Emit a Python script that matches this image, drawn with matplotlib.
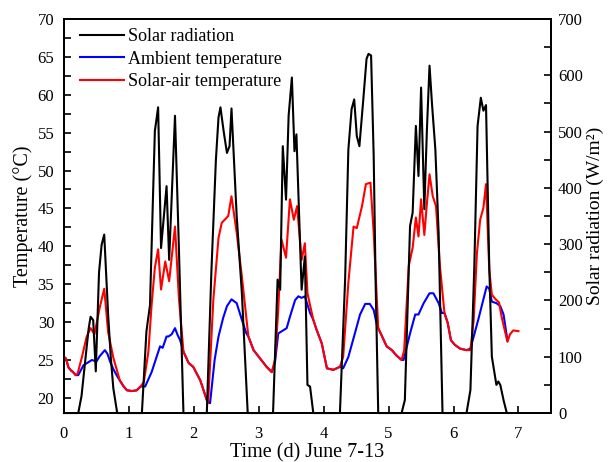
import matplotlib
matplotlib.use("Agg")
import matplotlib.pyplot as plt
from matplotlib.ticker import MultipleLocator

plt.rcParams['font.family'] = ['Liberation Serif', 'DejaVu Serif']

# Solar radiation (W/m2)
t_sol = [0.00, 0.22, 0.27, 0.32, 0.38, 0.41, 0.45, 0.49, 0.54, 0.58, 0.62, 0.68, 0.72, 0.76, 0.82,
         1.20, 1.27, 1.325, 1.37, 1.40, 1.45, 1.495, 1.58, 1.62, 1.71, 1.77, 1.84,
         2.20, 2.27, 2.34, 2.38, 2.41, 2.46, 2.51, 2.55, 2.58, 2.66, 2.74, 2.83,
         3.22, 3.29, 3.33, 3.37, 3.42, 3.46, 3.51, 3.55, 3.58, 3.66, 3.71, 3.75, 3.79, 3.84,
         4.25, 4.33, 4.38, 4.43, 4.47, 4.51, 4.55, 4.61, 4.66, 4.69, 4.73, 4.77, 4.80, 4.84,
         5.20, 5.25, 5.33, 5.37, 5.42, 5.46, 5.50, 5.55, 5.59, 5.63, 5.67, 5.72, 5.77, 5.83,
         6.20, 6.26, 6.32, 6.37, 6.42, 6.46, 6.50, 6.55, 6.59, 6.66, 6.69, 6.72, 6.77, 6.82, 6.85]
sol = [0, 0, 30, 85, 150, 171, 165, 74, 250, 299, 317, 175, 100, 44, 0,
       0, 145, 192, 380, 501, 543, 293, 403, 272, 528, 293, 0,
       0, 250, 450, 525, 543, 500, 462, 474, 541, 350, 213, 0,
       0, 237, 219, 474, 379, 528, 596, 465, 495, 219, 278, 50, 47, 0,
       0, 237, 468, 540, 557, 492, 474, 557, 629, 638, 635, 457, 231, 0,
       0, 23, 332, 356, 510, 421, 578, 362, 504, 617, 546, 468, 320, 0,
       0, 41, 261, 510, 560, 537, 547, 261, 100, 50, 56, 50, 23, 0, 0]

# Ambient temperature (C)
t_amb = [0.00, 0.03, 0.07, 0.11, 0.14, 0.18, 0.22, 0.30, 0.43, 0.50, 0.55, 0.63, 0.67, 0.71, 0.76, 0.81,
         0.86, 0.92, 0.97, 1.05, 1.12, 1.18, 1.25, 1.35, 1.43, 1.48, 1.52, 1.58, 1.61, 1.66, 1.71, 1.75, 1.79, 1.84,
         1.92, 1.99, 2.10, 2.20, 2.25, 2.32, 2.38, 2.45, 2.51, 2.58, 2.66, 2.74, 2.81, 2.84,
         2.92, 3.02, 3.12, 3.20, 3.25, 3.30, 3.43, 3.48, 3.56, 3.61, 3.66, 3.71, 3.79, 3.84,
         3.89, 3.97, 4.05, 4.15, 4.25, 4.30, 4.38, 4.48, 4.56, 4.64, 4.71, 4.77, 4.82, 4.84,
         4.90, 4.97, 5.05, 5.12, 5.20, 5.23, 5.33, 5.41, 5.46, 5.54, 5.63, 5.69, 5.77, 5.82, 5.86,
         5.91, 5.96, 6.02, 6.10, 6.20, 6.26, 6.38, 6.51, 6.55, 6.59, 6.66, 6.72, 6.77, 6.83]
amb = [25.4, 25.2, 24.0, 23.6, 23.4, 23.0, 23.0, 24.3, 25.0, 24.8, 25.5, 26.3, 25.8, 24.8, 23.8, 23.0,
       22.3, 21.5, 21.0, 20.9, 21.0, 21.5, 21.5, 23.4, 25.5, 26.8, 26.6, 28.1, 28.1, 28.4, 29.2, 28.3, 27.6, 26.1,
       24.6, 24.1, 22.3, 19.7, 19.3, 25.0, 28.1, 30.5, 32.1, 33.0, 32.5, 30.3, 28.5, 28.1,
       26.3, 25.2, 24.1, 23.4, 24.7, 28.5, 29.2, 30.7, 32.9, 33.4, 33.2, 33.4, 31.2, 30.3,
       29.0, 27.2, 23.9, 23.7, 24.1, 23.9, 25.4, 28.5, 31.0, 32.4, 32.4, 31.6, 29.6, 29.2,
       28.1, 26.8, 26.3, 25.6, 25.0, 25.0, 28.5, 31.0, 31.0, 32.5, 33.8, 33.8, 32.5, 31.2, 31.2,
       29.9, 27.6, 27.0, 26.5, 26.3, 26.5, 30.3, 34.7, 34.4, 32.7, 32.5, 32.1, 31.0, 27.6]

# Solar-air temperature (C)
t_sa = [0.00, 0.03, 0.07, 0.11, 0.14, 0.18, 0.21, 0.28, 0.35, 0.41, 0.47, 0.55, 0.62, 0.68, 0.76, 0.81,
        0.86, 0.92, 0.97, 1.05, 1.12, 1.18, 1.23, 1.30, 1.35, 1.40, 1.45, 1.495, 1.56, 1.62, 1.71, 1.77, 1.84,
        1.92, 1.99, 2.10, 2.20, 2.22, 2.30, 2.38, 2.43, 2.53, 2.58, 2.66, 2.74, 2.84,
        2.92, 3.02, 3.12, 3.20, 3.25, 3.30, 3.35, 3.42, 3.48, 3.54, 3.59, 3.66, 3.71, 3.75, 3.84,
        3.89, 3.97, 4.05, 4.15, 4.25, 4.30, 4.38, 4.46, 4.51, 4.59, 4.65, 4.72, 4.77, 4.84,
        4.90, 4.97, 5.05, 5.12, 5.20, 5.24, 5.31, 5.37, 5.42, 5.46, 5.50, 5.55, 5.59, 5.63, 5.68, 5.73, 5.79, 5.86,
        5.91, 5.96, 6.02, 6.10, 6.20, 6.26, 6.31, 6.36, 6.41, 6.46, 6.50, 6.55, 6.59, 6.66, 6.70, 6.74, 6.80, 6.83,
        6.87, 6.92, 7.00]
sa = [25.4, 25.2, 24.0, 23.6, 23.4, 23.0, 23.2, 25.5, 28.1, 29.2, 28.4, 31.9, 34.4, 28.7, 25.3, 23.8,
      22.3, 21.5, 21.0, 20.9, 21.0, 21.5, 22.1, 26.1, 32.3, 37.2, 39.6, 34.3, 38.0, 35.4, 42.6, 33.2, 26.1,
      24.6, 24.1, 22.3, 19.7, 19.3, 32.9, 41.1, 43.1, 44.0, 46.6, 41.8, 36.0, 28.1,
      26.3, 25.2, 24.1, 23.4, 25.0, 31.6, 40.9, 38.5, 46.2, 43.5, 45.3, 38.2, 40.4, 33.8, 30.3,
      29.0, 27.2, 23.9, 23.7, 24.1, 25.4, 35.2, 42.6, 42.4, 45.3, 48.2, 48.4, 41.8, 29.2,
      28.1, 26.8, 26.3, 25.6, 25.0, 26.3, 37.4, 39.8, 43.8, 41.3, 46.2, 41.5, 45.7, 49.5, 46.6, 45.3, 37.4, 31.2,
      29.9, 27.6, 27.0, 26.5, 26.3, 26.3, 30.3, 39.1, 43.5, 45.1, 48.2, 36.9, 33.6, 32.9, 32.6, 30.7, 28.5, 27.4,
      28.4, 28.9, 28.8]

fig = plt.figure(figsize=(6.11, 4.62), dpi=100)
ax = fig.add_axes([0.1047, 0.106, 0.797, 0.853])
ax2 = ax.twinx()

l_amb, = ax.plot(t_amb, amb, color='#0000ff', lw=1.5, label='Ambient temperature', zorder=2)
l_sa, = ax.plot(t_sa, sa, color='#ff0000', lw=1.5, label='Solar-air temperature', zorder=3)
l_sol, = ax2.plot(t_sol, sol, color='black', lw=1.5, label='Solar radiation', clip_on=False)

ax.set_xlim(0, 7.5)
ax.set_ylim(18, 70)
ax2.set_ylim(0, 700)

ax.xaxis.set_major_locator(MultipleLocator(1))
ax.yaxis.set_major_locator(MultipleLocator(5))
ax.yaxis.set_minor_locator(MultipleLocator(2.5))
ax2.yaxis.set_major_locator(MultipleLocator(100))
ax2.yaxis.set_minor_locator(MultipleLocator(50))

ax.tick_params(axis='both', which='both', direction='in', labelsize=12, width=1.2)
ax.tick_params(axis='both', which='major', length=5)
ax.tick_params(axis='y', which='minor', length=5)
ax.tick_params(axis='y', pad=7)
ax.tick_params(axis='x', pad=9)
ax2.tick_params(axis='y', which='both', direction='in', labelsize=12, width=1.2, length=5, pad=5)

for a in (ax, ax2):
    for s in a.spines.values():
        s.set_linewidth(1.3)

ax.set_xlabel('Time (d) June 7-13', fontsize=14.5, labelpad=1)
ax.set_ylabel('Temperature (°C)', fontsize=14.5, labelpad=3)
ax2.set_ylabel('Solar radiation (W/m²)', fontsize=14, labelpad=3)

ax2.set_zorder(ax.get_zorder() + 1)
ax2.patch.set_visible(False)

leg = ax2.legend(handles=[l_sol, l_amb, l_sa], loc='upper left', frameon=False, fontsize=13,
                 handlelength=2.4, handletextpad=0.25, labelspacing=0.3,
                 bbox_to_anchor=(0.0, 1.018), borderaxespad=0.5)

fig.savefig('out.png', dpi=100)
